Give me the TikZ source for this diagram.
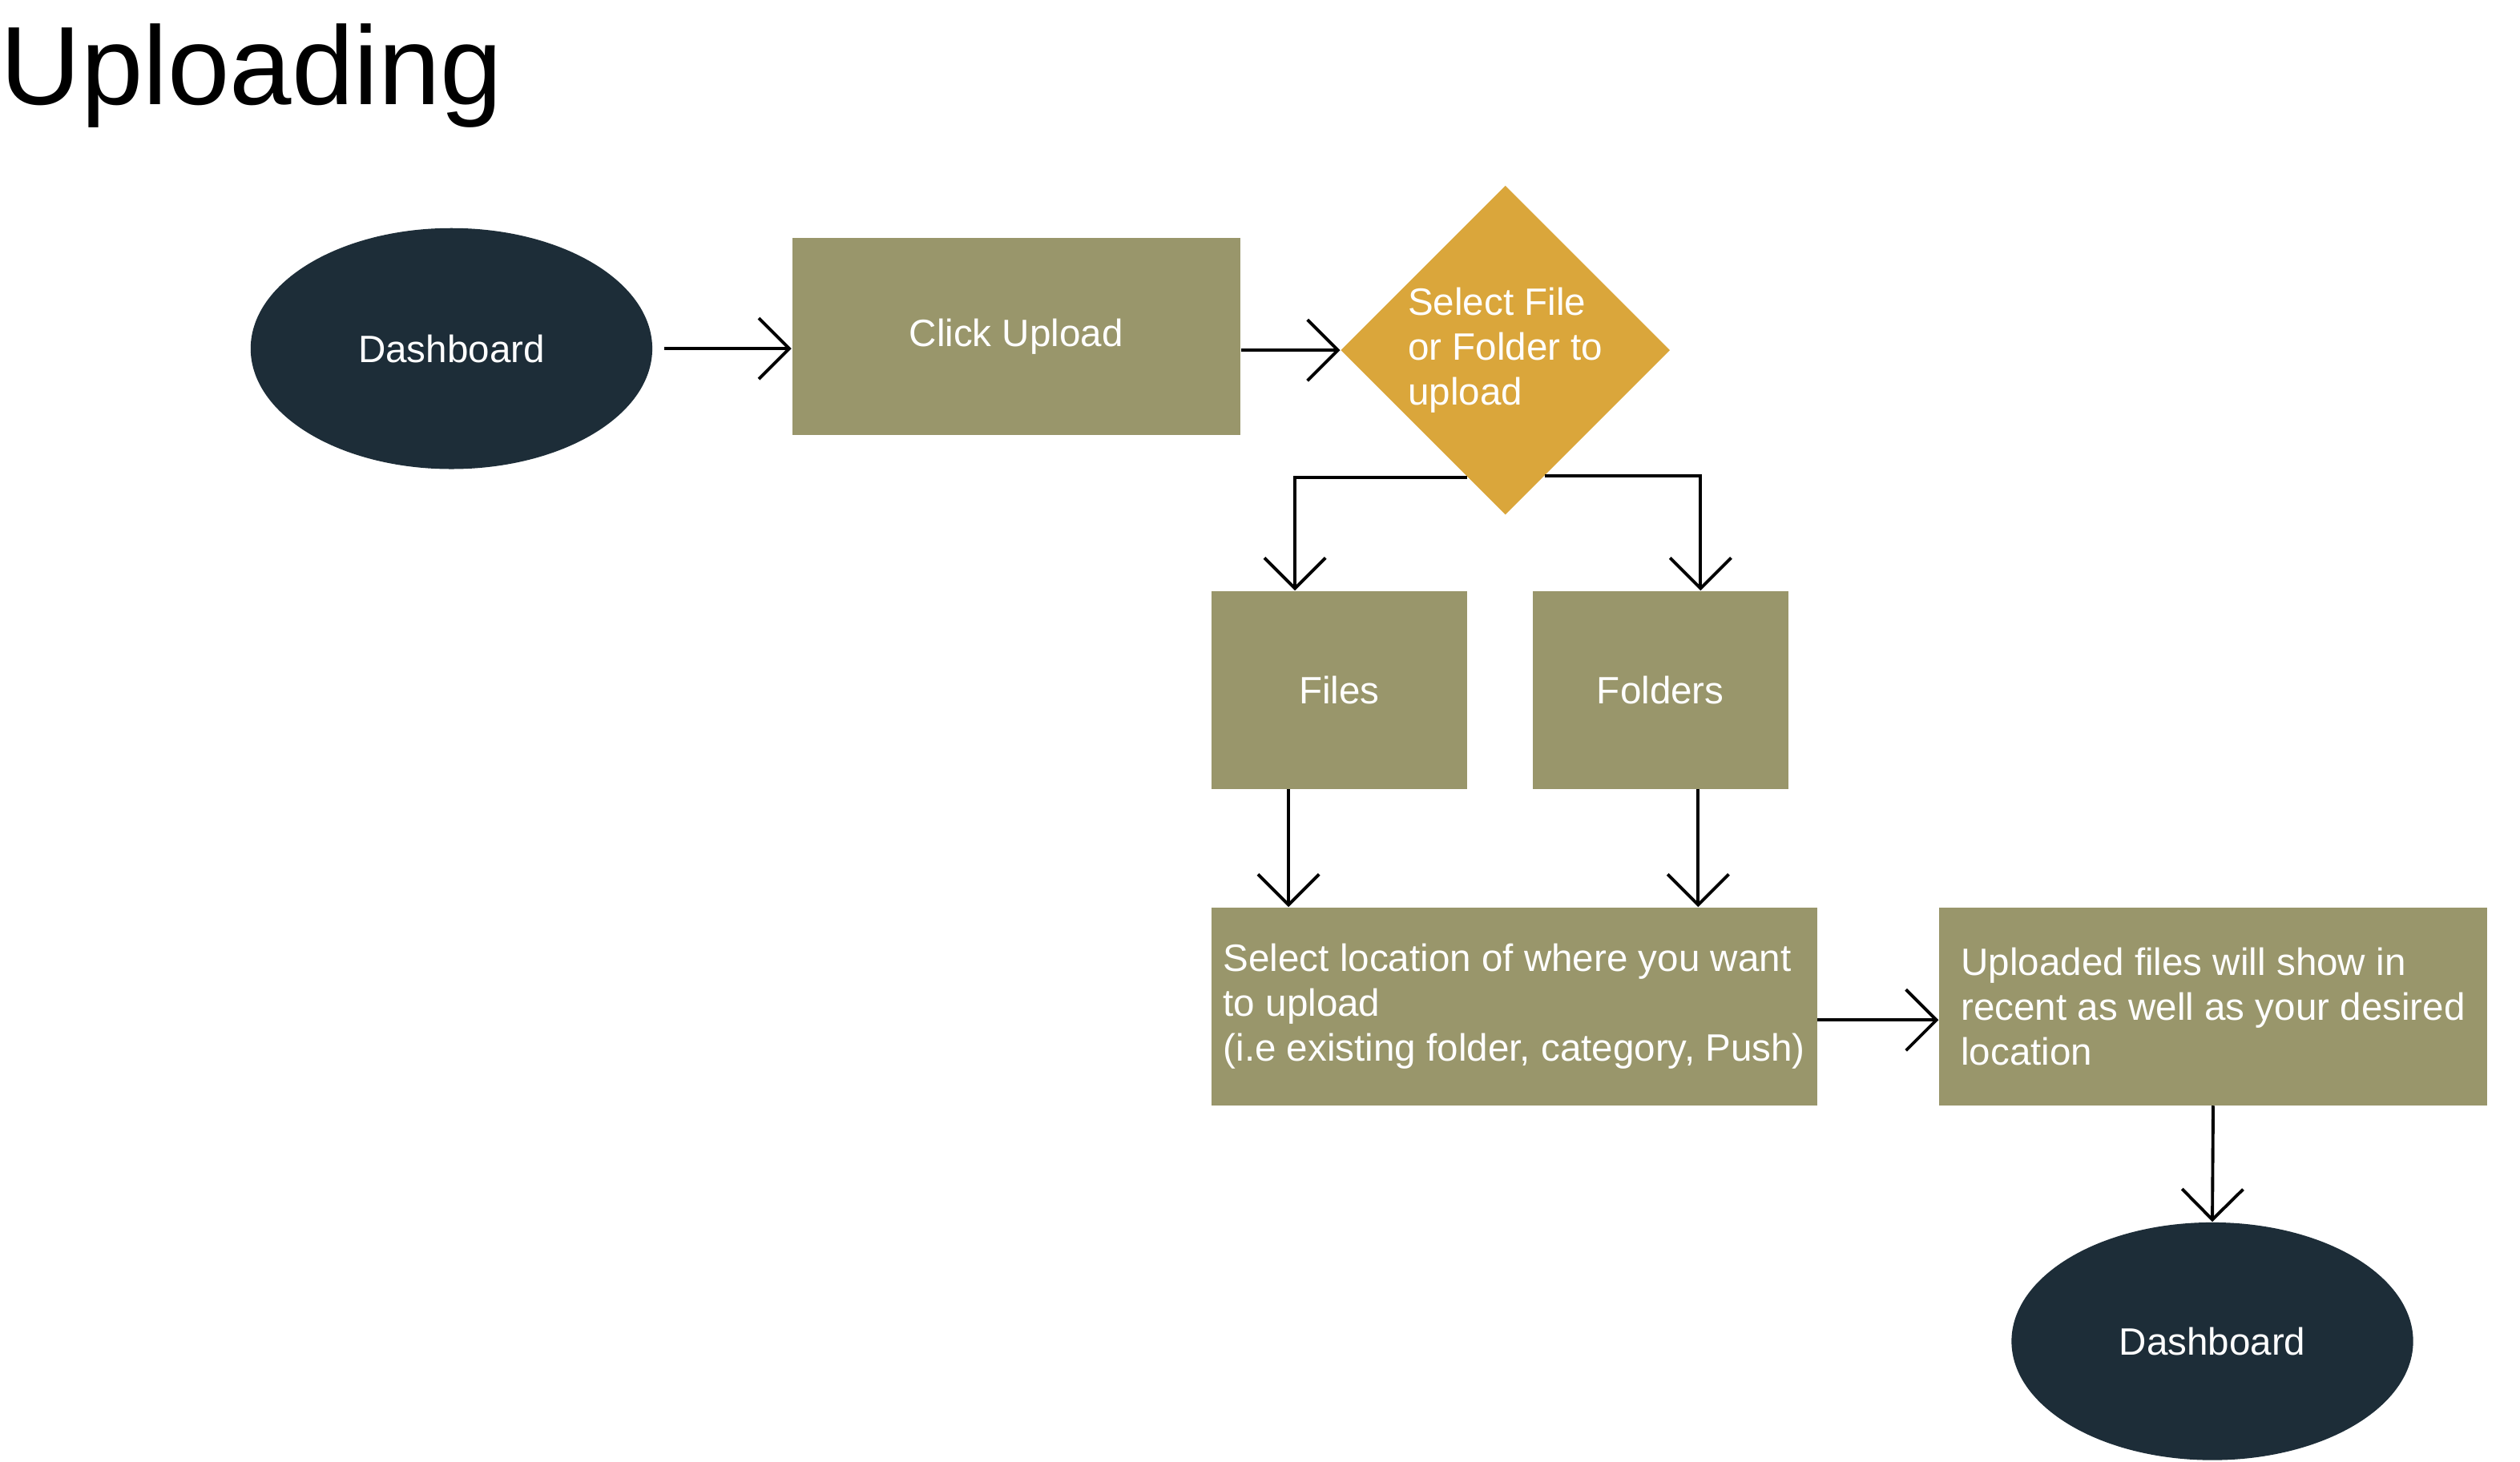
\documentclass[tikz,border=0pt]{standalone}
\usepackage{fontspec}
\setmainfont{Liberation Sans}
\usepackage{xcolor}
\usetikzlibrary{shapes.geometric,arrows.meta,calc}

\definecolor{navy}{HTML}{1D2D38}
\definecolor{olive}{HTML}{99966B}
\definecolor{gold}{HTML}{DAA63B}

\begin{document}
\begin{tikzpicture}[
  box/.style={rectangle, fill=olive, text=white, minimum height=2.46cm,
    align=left, inner sep=0pt, font=\fontsize{13.5}{15.9}\selectfont},
  oval/.style={ellipse, fill=navy, text=white, minimum width=5cm,
    minimum height=3cm, inner sep=0pt, font=\fontsize{13.5}{15.9}\selectfont},
  flow/.style={-{Straight Barb[length=0.38cm,width=0.76cm]}, line width=1.1pt}]
\useasboundingbox (0,0) rectangle (31.37,-18.2);
\node[anchor=base west, inner sep=0pt, font=\fontsize{39.5}{45}\selectfont]
(title) at (0,-1.3) {Uploading};
% first row
\node[oval] (dash1) at (5.62,-4.34) {Dashboard};
\node[box, minimum width=5.58cm] (upload) at (12.65,-4.19) {Click Upload};
\node[diamond, fill=gold, text=white, minimum width=4.1cm, minimum height=4.1cm,
  aspect=1, inner sep=0pt, align=left, font=\fontsize{13.5}{15.9}\selectfont]
(choose) at (18.74,-4.36) {Select File\\ or Folder to\\ upload};
% second row
\node[box, minimum width=3.18cm] (files) at (16.67,-8.59) {Files};
\node[box, minimum width=3.18cm] (folders) at (20.67,-8.59) {Folders};
% third row
\node[box, minimum width=7.54cm] (location) at (18.85,-12.53)
{Select location of where you want\\ to upload\\ (i.e existing folder, category, Push)};
\node[box, minimum width=6.82cm] (uploaded) at (27.55,-12.53)
{Uploaded files will show in\\ recent as well as your desired\\ location};
\node[oval, minimum height=2.96cm] (dash2) at (27.54,-16.7) {Dashboard};
% connectors
\coordinate (leftout) at ($(choose.west)!0.77!(choose.south)$);
\coordinate (rightout) at ($(choose.south)!0.24!(choose.east)$);
\coordinate (filesin) at ([xshift=-0.55cm]files.north);
\coordinate (foldersin) at ([xshift=0.5cm]folders.north);
\coordinate (filesout) at ([xshift=-0.63cm]files.south);
\coordinate (foldersout) at ([xshift=0.47cm]folders.south);
\coordinate (locout) at ([yshift=-0.17cm]location.east);
\draw[flow, shorten <=0.14cm] (dash1.east) -- (upload.west |- dash1.east);
\draw[flow] (upload.east |- choose.west) -- (choose.west);
\draw[flow] (leftout) -| (filesin);
\draw[flow] (rightout) -| (foldersin);
\draw[flow] (filesout) -- (filesout |- location.north);
\draw[flow] (foldersout) -- (foldersout |- location.north);
\draw[flow] (locout) -- (locout -| uploaded.west);
\draw[flow] (uploaded.south) -- (dash2.north);
\end{tikzpicture}
\end{document}
